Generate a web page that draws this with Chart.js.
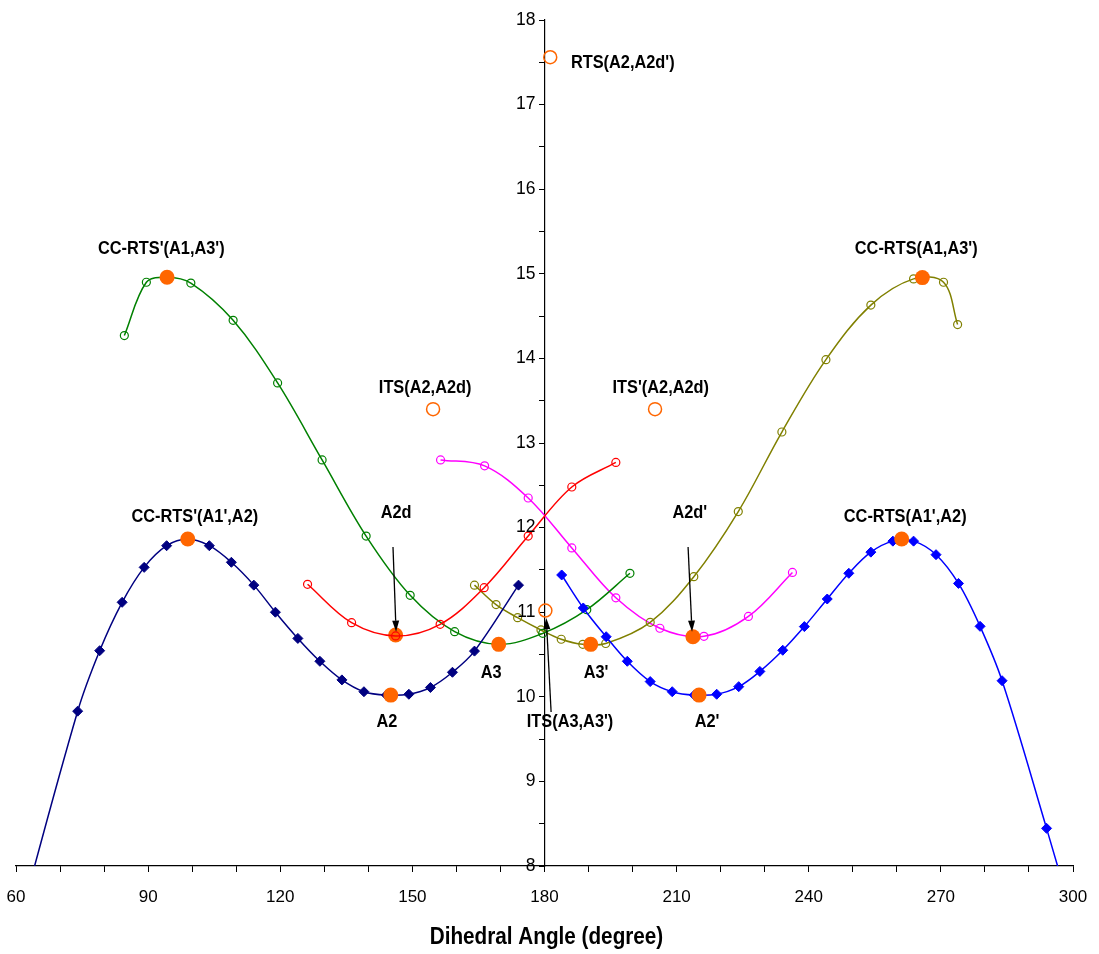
<!DOCTYPE html>
<html>
<head>
<meta charset="utf-8">
<script src="https://cdn.jsdelivr.net/npm/chart.js@4.4.1/dist/chart.umd.min.js"></script>
<style>
  html, body { margin: 0; padding: 0; background: #fff; }
  #wrap { width: 1099px; height: 954px; }
</style>
</head>
<body>
<div id="wrap"><canvas id="pesChart"></canvas></div>
<script>
// axis labels that get printed (other ticks are minor)
const xTickLabels = [60, 90, 120, 150, 180, 210, 240, 270, 300];
const yTickLabels = [8, 9, 10, 11, 12, 13, 14, 15, 16, 17, 18];
const xTitle = 'Dihedral Angle (degree)';

// CC-RTS'(A1',A2) branch, left
const navyAngle = [59, 74, 79, 84.1, 89.1, 94.2, 99, 103.9, 108.9, 114, 118.9, 124, 129, 134, 139, 144.1, 149.2, 154.1, 159.1, 164.1, 174.1];
const navyEnergy = [7.0, 9.83, 10.545, 11.117, 11.53, 11.786, 11.865, 11.786, 11.59, 11.32, 11.0, 10.69, 10.42, 10.2, 10.06, 10.02, 10.03, 10.11, 10.29, 10.54, 11.32];

// CC-RTS(A1',A2) branch, right
const blueAngle = [183.9, 188.8, 194.0, 198.8, 204.0, 209.0, 214.0, 219.1, 224.1, 228.9, 234.1, 239.0, 244.2, 249.1, 254.1, 259.1, 263.8, 268.9, 274.0, 278.9, 283.9, 294.0, 299];
const blueEnergy = [11.44, 11.05, 10.71, 10.42, 10.18, 10.06, 10.02, 10.03, 10.12, 10.30, 10.55, 10.83, 11.156, 11.46, 11.71, 11.84, 11.84, 11.68, 11.34, 10.833, 10.19, 8.445, 7.55];

// CC-RTS'(A1,A3') branch
const greenAngle = [84.6, 89.6, 94.3, 99.7, 109.3, 119.4, 129.5, 139.5, 149.5, 159.6, 169.6, 179.6, 189.6, 199.4];
const greenEnergy = [14.27, 14.90, 14.96, 14.89, 14.45, 13.71, 12.80, 11.90, 11.20, 10.77, 10.62, 10.75, 11.03, 11.46];

// CC-RTS(A1,A3') branch
const oliveAngle = [164.1, 169.0, 173.9, 179.2, 183.8, 188.7, 193.9, 204.0, 213.9, 224.0, 233.9, 243.9, 254.1, 263.8, 270.6, 273.8];
const oliveEnergy = [11.32, 11.09, 10.935, 10.79, 10.68, 10.62, 10.63, 10.88, 11.42, 12.19, 13.13, 13.985, 14.63, 14.94, 14.90, 14.40];

// ITS(A2,A2d) path
const redAngle = [126.2, 136.2, 146.2, 156.3, 166.3, 176.3, 186.2, 196.2];
const redEnergy = [11.33, 10.876, 10.72, 10.857, 11.29, 11.9, 12.48, 12.77];

// ITS'(A2,A2d) path
const magentaAngle = [156.4, 166.4, 176.3, 186.2, 196.2, 206.2, 216.2, 226.3, 236.3];
const magentaEnergy = [12.80, 12.73, 12.35, 11.76, 11.17, 10.81, 10.715, 10.95, 11.47];

// stationary points (filled) and transition states (open)
const minimaAngle = [99.0, 145.1, 146.2, 169.6, 94.3, 190.5, 215.1, 213.7, 265.8, 261.1];
const minimaEnergy = [11.865, 10.02, 10.73, 10.62, 14.96, 10.62, 10.02, 10.71, 14.955, 11.865];
const tsAngle = [181.3, 154.7, 205.1, 180.2];
const tsEnergy = [17.56, 13.40, 13.40, 11.02];

// text labels
const labelText = ["RTS(A2,A2d')", "CC-RTS'(A1,A3')", "CC-RTS(A1,A3')", "ITS(A2,A2d)", "ITS'(A2,A2d)",
  "CC-RTS'(A1',A2)", "CC-RTS(A1',A2)", "A2d", "A2d'", "A3", "A3'", "A2", "A2'", "ITS(A3,A3')"];
const labelAngle = [186.0, 93.0, 264.4, 152.9, 206.4, 100.6, 261.9, 146.3, 213.0, 167.9, 191.7, 144.2, 216.9, 185.8];
const labelEnergy = [17.5, 15.3, 15.3, 13.65, 13.65, 12.13, 12.13, 12.17, 12.17, 10.29, 10.29, 9.70, 9.70, 9.70];
const labelAlign = ['left', 'center', 'center', 'center', 'center', 'center', 'center', 'center', 'center', 'center', 'center', 'center', 'center', 'center'];

// arrows: from (angle, energy) to (angle, energy)
const arrowFromAngle = [145.6, 212.6, 181.5];
const arrowFromEnergy = [11.77, 11.77, 9.82];
const arrowToAngle = [146.3, 213.5, 180.4];
const arrowToEnergy = [10.77, 10.77, 10.93];

const FONT = "'Liberation Sans', Arial, sans-serif";
const ORANGE = '#FF6600';

function pts(xs, ys) {
  return xs.map((x, i) => ({ x: x, y: ys[i] }));
}

function curve(xs, ys, color, marker, order) {
  const open = marker === 'circle';
  return {
    data: pts(xs, ys),
    showLine: true,
    borderColor: color,
    borderWidth: 1.5,
    tension: 0.35,
    pointStyle: marker,
    pointRadius: open ? 4 : 5,
    pointBorderWidth: open ? 1.2 : 1,
    pointBorderColor: color,
    pointBackgroundColor: open ? 'rgba(0,0,0,0)' : color,
    clip: 0,
    order: order
  };
}

function condensedText(ctx, text, x, y, sx, align) {
  ctx.save();
  ctx.translate(x, y);
  ctx.scale(sx, 1);
  ctx.textAlign = align;
  ctx.fillText(text, 0, 0);
  ctx.restore();
}

// tick numbers, axis title, bold labels and arrows
const annotations = {
  id: 'annotations',
  afterDatasetsDraw(chart) {
    const ctx = chart.ctx;
    const xs = chart.scales.x, ys = chart.scales.y;
    const area = chart.chartArea;
    ctx.save();
    ctx.fillStyle = '#000';

    // y numbers sit left of the centre axis
    ctx.font = '17.5px ' + FONT;
    ctx.textAlign = 'right';
    ctx.textBaseline = 'middle';
    const axisX = xs.getPixelForValue(180);
    yTickLabels.forEach(v => {
      ctx.fillText(String(v), axisX - 9, ys.getPixelForValue(v));
    });

    // x numbers and title under the bottom axis
    ctx.font = '17px ' + FONT;
    ctx.textAlign = 'center';
    ctx.textBaseline = 'alphabetic';
    xTickLabels.forEach(v => {
      ctx.fillText(String(v), xs.getPixelForValue(v), area.bottom + 36);
    });
    ctx.font = 'bold 23px ' + FONT;
    condensedText(ctx, xTitle, (area.left + area.right) / 2 + 2, area.bottom + 78, 0.9, 'center');

    ctx.textBaseline = 'middle';
    ctx.font = 'bold 19px ' + FONT;
    labelText.forEach((t, i) => {
      condensedText(ctx, t, xs.getPixelForValue(labelAngle[i]), ys.getPixelForValue(labelEnergy[i]), 0.86, labelAlign[i]);
    });

    ctx.strokeStyle = '#000';
    ctx.lineWidth = 1.3;
    arrowFromAngle.forEach((a, i) => {
      const x0 = xs.getPixelForValue(a), y0 = ys.getPixelForValue(arrowFromEnergy[i]);
      const x1 = xs.getPixelForValue(arrowToAngle[i]), y1 = ys.getPixelForValue(arrowToEnergy[i]);
      const ang = Math.atan2(y1 - y0, x1 - x0);
      const len = 11, half = 3.5;
      const bx = x1 - len * Math.cos(ang), by = y1 - len * Math.sin(ang);
      ctx.beginPath();
      ctx.moveTo(x0, y0);
      ctx.lineTo(bx, by);
      ctx.stroke();
      ctx.beginPath();
      ctx.moveTo(x1, y1);
      ctx.lineTo(bx + half * Math.sin(ang), by - half * Math.cos(ang));
      ctx.lineTo(bx - half * Math.sin(ang), by + half * Math.cos(ang));
      ctx.closePath();
      ctx.fill();
    });
    ctx.restore();
  }
};

new Chart(document.getElementById('pesChart'), {
  type: 'scatter',
  data: {
    datasets: [
      curve(redAngle, redEnergy, '#FF0000', 'circle', 0),
      {
        data: pts(minimaAngle, minimaEnergy),
        pointStyle: 'circle',
        pointRadius: 7.5,
        pointBorderWidth: 0,
        pointBackgroundColor: ORANGE,
        pointBorderColor: ORANGE,
        order: 1
      },
      {
        data: pts(tsAngle, tsEnergy),
        pointStyle: 'circle',
        pointRadius: 6.5,
        pointBorderWidth: 1.5,
        pointBackgroundColor: 'rgba(0,0,0,0)',
        pointBorderColor: ORANGE,
        order: 1
      },
      curve(navyAngle, navyEnergy, '#000080', 'rectRot', 2),
      curve(blueAngle, blueEnergy, '#0000FF', 'rectRot', 2),
      curve(greenAngle, greenEnergy, '#008000', 'circle', 2),
      curve(oliveAngle, oliveEnergy, '#808000', 'circle', 2),
      curve(magentaAngle, magentaEnergy, '#FF00FF', 'circle', 2)
    ]
  },
  options: {
    responsive: true,
    maintainAspectRatio: false,
    animation: false,
    layout: { padding: { left: 16, right: 26, top: 20, bottom: 82 } },
    plugins: {
      legend: { display: false },
      tooltip: { enabled: false }
    },
    scales: {
      x: {
        type: 'linear',
        position: 'bottom',
        min: 60,
        max: 300,
        border: { color: '#000', width: 1.2 },
        grid: { drawOnChartArea: false, drawTicks: true, tickLength: 6, color: '#000' },
        ticks: {
          display: false,
          stepSize: 10,
          autoSkip: false
        }
      },
      y: {
        type: 'linear',
        position: { x: 180 },
        min: 8,
        max: 18,
        border: { color: '#000', width: 1.2 },
        grid: { drawOnChartArea: false, drawTicks: true, tickLength: 5, color: '#000' },
        ticks: {
          display: false,
          stepSize: 0.5,
          autoSkip: false
        }
      }
    }
  },
  plugins: [annotations]
});
</script>
</body>
</html>
